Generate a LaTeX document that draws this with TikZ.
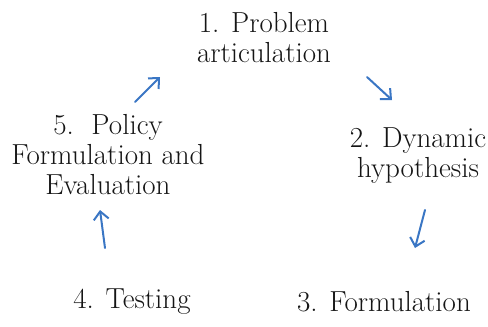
\documentclass[tikz,border=0pt]{standalone}
\usetikzlibrary{arrows.meta}
\definecolor{arrowblue}{HTML}{3A76C4}
\definecolor{txt}{HTML}{151515}
\begin{document}
\begin{tikzpicture}[x=1pt,y=-1pt,
  lbl/.style={font=\fontsize{29}{30}\selectfont, align=center, inner sep=0pt, text=txt},
  flow/.style={draw=arrowblue, line width=2pt, line cap=round, line join=round,
    -{Straight Barb[length=8pt,width=15pt,line width=2pt]}}]
\useasboundingbox (0,0) rectangle (488,327);
\node[lbl] (p1) at (264,38) {1. Problem\\articulation};
\node[lbl] (p2) at (418,156) {2. Dynamic\\hypothesis};
\node[lbl] (p3) at (384,302) {3. Formulation};
\node[lbl] (p4) at (132,302) {4. Testing};
\node[lbl] (p5) at (108,155) {5.\ \ Policy\\Formulation and\\Evaluation};
\coordinate (a1s) at (367,77);  \coordinate (a1e) at (392,100);
\coordinate (a2s) at (425,210); \coordinate (a2e) at (415,248);
\coordinate (a4s) at (105,248); \coordinate (a4e) at (100,210);
\coordinate (a5s) at (135,102); \coordinate (a5e) at (160,77);
\draw[flow] (a1s) -- (a1e);
\draw[flow] (a2s) -- (a2e);
\draw[flow] (a4s) -- (a4e);
\draw[flow] (a5s) -- (a5e);
\end{tikzpicture}
\end{document}
